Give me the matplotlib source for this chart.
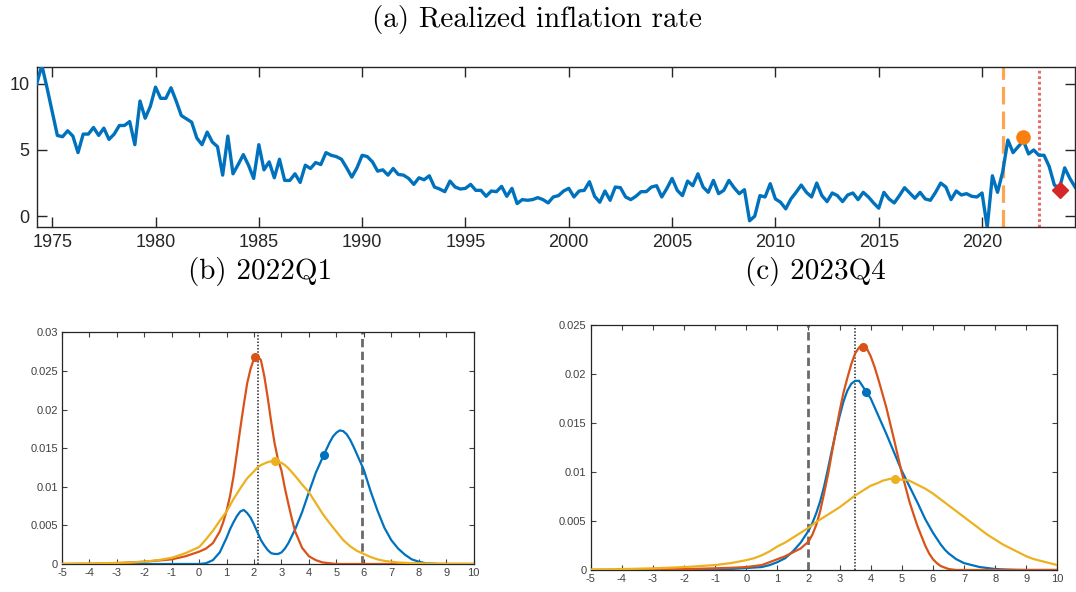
import numpy as np
import matplotlib
matplotlib.use("Agg")
import matplotlib.pyplot as plt

plt.rcParams['axes.unicode_minus'] = False

# ---------------- data: panel (a) quarterly realized inflation ----------------
start_year = 1974.25
inflation = [
    10.0, 11.4, 9.7, 7.9, 6.1, 6.0, 6.45, 6.05, 4.8, 6.2,
    6.2, 6.7, 6.1, 6.65, 5.8, 6.2, 6.85, 6.85, 7.15, 5.4,
    8.7, 7.4, 8.3, 9.75, 8.9, 8.9, 9.7, 8.7, 7.6, 7.35,
    7.1, 5.9, 5.4, 6.35, 5.6, 5.25, 3.1, 6.05, 3.2, 3.9,
    4.65, 3.85, 2.85, 5.4, 3.5, 4.1, 2.9, 4.3, 2.7, 2.7,
    3.2, 2.55, 3.85, 3.6, 4.05, 3.9, 4.8, 4.6, 4.5, 4.3,
    3.65, 2.95, 3.65, 4.6, 4.5, 4.1, 3.4, 3.5, 3.1, 3.6,
    3.15, 3.1, 2.85, 2.4, 2.9, 2.75, 3.05, 2.2, 2.05, 1.85,
    2.65, 2.2, 2.05, 2.1, 2.4, 1.95, 1.95, 1.5, 1.9, 1.85,
    2.25, 1.5, 2.1, 0.95, 1.25, 1.2, 1.25, 1.4, 1.25, 1.0,
    1.45, 1.55, 1.9, 2.1, 1.45, 1.9, 1.95, 2.6, 1.5, 1.05,
    1.9, 1.2, 2.2, 2.15, 1.45, 1.25, 1.5, 1.85, 1.85, 2.2,
    2.3, 1.45, 2.1, 2.85, 1.95, 1.55, 2.65, 2.3, 3.2, 2.2,
    1.8, 2.7, 1.7, 1.95, 2.7, 2.15, 1.7, 2.0, -0.35, 0.0,
    1.55, 1.45, 2.45, 1.3, 1.05, 0.55, 1.3, 1.8, 2.35, 1.8,
    1.45, 2.5, 1.55, 1.1, 1.75, 1.55, 1.1, 1.6, 1.75, 1.25,
    1.8, 1.45, 1.0, 0.6, 1.8, 1.3, 1.0, 1.55, 2.15, 1.75,
    1.35, 1.8, 1.3, 1.2, 1.8, 2.5, 2.2, 1.25, 1.9, 1.6,
    1.7, 1.5, 1.45, 1.75, -0.85, 3.05, 1.8, 3.35, 5.75, 4.8,
    5.25, 5.7, 4.7, 5.0, 4.6, 4.6, 3.75, 2.35, 2.1, 3.65,
    2.85, 2.2,
]
forecast_2022q1_date = 2021.0
forecast_2023q4_date = 2022.75
real_2022q1 = (2022.0, 5.95)
real_2023q4 = (2023.75, 1.95)

# ---------------- data: panels (b) and (c) densities ----------------
x_grid = np.arange(-5, 10.001, 0.25)

b_blue = [
    0, 0, 0, 0, 0, 0, 0, 0, 0, 0, 0, 0, 0, 0, 0, 0, 0, 0, 0, 0, 0,
    0.0001, 0.0005, 0.0015, 0.0034, 0.0054, 0.0068, 0.0066, 0.0051, 0.0031, 0.0018,
    0.0013, 0.0015, 0.0027, 0.0045, 0.0067, 0.0093, 0.0118, 0.0138, 0.0157, 0.0170,
    0.0172, 0.0161, 0.0142, 0.0122, 0.0094, 0.0069, 0.0047, 0.0031, 0.0020, 0.0012,
    0.0006, 0.0003, 0.0001, 0.00005, 0, 0, 0, 0, 0, 0,
]
b_blue_extra_x = [1.125, 1.375, 1.625, 1.875, 2.125, 2.375, 2.625, 2.875, 3.125,
                  4.875, 5.125, 5.375, 5.625, 5.875]
b_blue_extra_y = [0.0045, 0.0062, 0.0070, 0.0060, 0.0041, 0.0024, 0.0014, 0.0013, 0.0020,
                  0.0165, 0.0173, 0.0168, 0.0152, 0.0132]
b_red = [
    0, 0, 0.00001, 0.00002, 0.00003, 0.00004, 0.00006, 0.00008, 0.0001, 0.00015,
    0.0002, 0.00025, 0.0003, 0.00037, 0.00045, 0.00052, 0.0006, 0.0008, 0.001, 0.0013,
    0.0016, 0.002, 0.0027, 0.0042, 0.0069, 0.0113, 0.0176, 0.0234, 0.0266, 0.0264,
    0.0215, 0.0156, 0.0121, 0.0078, 0.0042, 0.0021, 0.0010, 0.0005, 0.0002, 0.0001,
    0, 0, 0, 0, 0, 0, 0, 0, 0, 0, 0, 0, 0, 0, 0, 0, 0, 0, 0, 0, 0,
]
b_red_extra_x = [0.875, 1.125, 1.375, 1.625, 1.875, 2.125, 2.375, 2.625, 2.875, 3.125, 3.375]
b_red_extra_y = [0.0054, 0.0088, 0.0144, 0.0206, 0.0253, 0.0269, 0.0243, 0.0184, 0.0135, 0.0098, 0.0059]
b_yellow = [
    0.00002, 0.00003, 0.00004, 0.00005, 0.00006, 0.00008, 0.0001, 0.00012, 0.00015, 0.00018,
    0.0002, 0.00025, 0.0003, 0.0004, 0.0005, 0.00065, 0.0008, 0.0011, 0.0014, 0.0018,
    0.0022, 0.0032, 0.0043, 0.0056, 0.0068, 0.0084, 0.0098, 0.0111, 0.0120, 0.0128,
    0.0132, 0.0133, 0.0131, 0.0124, 0.0114, 0.0103, 0.0093, 0.0079, 0.0065, 0.0053,
    0.0042, 0.0031, 0.0023, 0.0017, 0.0013, 0.0009, 0.0006, 0.0004, 0.0003, 0.0002,
    0.00015, 0.0001, 0.0001, 0.00007, 0.00005, 0.00004, 0.00003, 0.00002, 0.00002, 0.00001,
    0.00001,
]
b_yellow_extra_x = [2.125, 2.375, 2.625, 2.875, 3.125]
b_yellow_extra_y = [0.0125, 0.0130, 0.0133, 0.0132, 0.0128]
b_points = {'blue': (4.55, 0.0141), 'red': (2.05, 0.0268), 'yellow': (2.75, 0.0133)}
b_dotted = 2.15
b_dashed = 5.95

c_blue = [
    0, 0, 0, 0, 0, 0, 0, 0.00001, 0.00001, 0.00001,
    0.00002, 0.00002, 0.00003, 0.00003, 0.00004, 0.00005, 0.00006, 0.00008, 0.0001, 0.00015,
    0.0002, 0.00025, 0.0003, 0.0005, 0.0008, 0.0012, 0.0019, 0.0028, 0.0040, 0.0058,
    0.0085, 0.0122, 0.0157, 0.0183, 0.0193, 0.0187, 0.0175, 0.0157, 0.0139, 0.0120,
    0.0101, 0.0085, 0.0069, 0.0052, 0.0038, 0.0026, 0.0017, 0.0011, 0.0007, 0.0005,
    0.0003, 0.0002, 0.0001, 0.00006, 0.00003, 0.00001, 0, 0, 0, 0,
    0,
]
c_blue_extra_x = [2.125, 2.375, 2.625, 2.875, 3.125, 3.375, 3.625, 3.875, 5.875, 6.125, 6.375]
c_blue_extra_y = [0.0048, 0.0070, 0.0103, 0.0140, 0.0172, 0.0190, 0.0193, 0.0181, 0.0045, 0.0032, 0.0021]
c_red = [
    0, 0, 0.00001, 0.00001, 0.00002, 0.00002, 0.00003, 0.00004, 0.00005, 0.00006,
    0.00007, 0.00008, 0.0001, 0.00011, 0.00013, 0.00015, 0.00017, 0.0002, 0.00022, 0.00026,
    0.0003, 0.0004, 0.0005, 0.0008, 0.0011, 0.0014, 0.0018, 0.0022, 0.0029, 0.0046,
    0.0078, 0.0119, 0.0162, 0.0196, 0.0221, 0.0229, 0.0218, 0.0194, 0.0166, 0.0133,
    0.0099, 0.0069, 0.0045, 0.0025, 0.0011, 0.0004, 0.0001, 0, 0, 0,
    0, 0, 0, 0, 0, 0, 0, 0, 0, 0,
    0,
]
c_red_extra_x = [2.125, 2.375, 2.625, 2.875, 3.125, 3.375, 3.625, 3.875, 4.125, 5.875, 6.125]
c_red_extra_y = [0.0036, 0.0060, 0.0097, 0.0141, 0.0181, 0.0210, 0.0227, 0.0226, 0.0207, 0.0017, 0.0007]
c_yellow = [
    0.00005, 0.00006, 0.00007, 0.00008, 0.0001, 0.00011, 0.00013, 0.00015, 0.00017, 0.0002,
    0.00023, 0.00026, 0.0003, 0.00034, 0.0004, 0.00045, 0.0005, 0.0006, 0.0007, 0.00085,
    0.001, 0.0012, 0.0015, 0.0019, 0.0024, 0.0028, 0.0033, 0.0038, 0.0043, 0.0049,
    0.0054, 0.0059, 0.0064, 0.0070, 0.0076, 0.0081, 0.0086, 0.0089, 0.0092, 0.0093,
    0.0092, 0.0091, 0.0087, 0.0083, 0.0078, 0.0072, 0.0066, 0.0060, 0.0054, 0.0048,
    0.0042, 0.0036, 0.0031, 0.0026, 0.0022, 0.0018, 0.0014, 0.0011, 0.0009, 0.0007,
    0.0005,
]
c_yellow_extra_x = [4.375, 4.625, 4.875, 5.125]
c_yellow_extra_y = [0.0091, 0.0093, 0.0093, 0.0092]
c_points = {'blue': (3.85, 0.0182), 'red': (3.75, 0.0228), 'yellow': (4.78, 0.0093)}
c_dotted = 3.5
c_dashed = 2.0

x_ticks = list(range(-5, 11))
b_yticks = [0, 0.005, 0.01, 0.015, 0.02, 0.025, 0.03]
b_ylabels = ['0', '0.005', '0.01', '0.015', '0.02', '0.025', '0.03']
c_yticks = [0, 0.005, 0.01, 0.015, 0.02, 0.025]
c_ylabels = ['0', '0.005', '0.01', '0.015', '0.02', '0.025']
top_xticks = [1975, 1980, 1985, 1990, 1995, 2000, 2005, 2010, 2015, 2020]
top_yticks = [0, 5, 10]

# ---------------- styles ----------------
BLUE = '#0072BD'
RED = '#D95319'
YELLOW = '#EDB120'
AX_COL = '#262626'
SANS = ['Liberation Sans', 'DejaVu Sans']
SERIF = ['cmr10', 'DejaVu Serif']


def merged(base, extra_x, extra_y):
    xs = np.concatenate([x_grid, np.asarray(extra_x, float)])
    ys = np.concatenate([np.asarray(base, float), np.asarray(extra_y, float)])
    order = np.argsort(xs, kind='stable')
    return xs[order], ys[order]


fig = plt.figure(figsize=(10.76, 5.92), dpi=100)

# ---------------- panel (a) ----------------
years = start_year + 0.25 * np.arange(len(inflation))
ax = fig.add_axes([0.0341, 0.617, 0.965, 0.2705])
ax.plot(years, inflation, color=BLUE, lw=2.4, solid_joinstyle='round', zorder=3)
ax.axvline(forecast_2022q1_date, color='#FFA552', lw=2.3, dashes=(5.5, 2.2), zorder=2)
ax.axvline(forecast_2023q4_date, color='#E86B6B', lw=2.2, dashes=(0.9, 0.9), zorder=2)
ax.plot([real_2022q1[0]], [real_2022q1[1]], 'o', color='#F98010', ms=9.5, zorder=4)
ax.plot([real_2023q4[0]], [real_2023q4[1]], 'D', color='#D62728', ms=8, zorder=4)
ax.set_xlim(years[0], years[-1])
ax.set_ylim(-0.8, 11.3)
ax.set_xticks(top_xticks)
ax.set_yticks(top_yticks)
ax.tick_params(direction='in', length=7, width=1, colors=AX_COL, labelsize=13,
               top=True, right=True, pad=5)
for lab in ax.get_xticklabels() + ax.get_yticklabels():
    lab.set_family(SANS)
for sp in ax.spines.values():
    sp.set_color(AX_COL)
    sp.set_linewidth(1.0)


def density_panel(rect, curves, points, dotted, dashed, ymax, yticks, ylabels):
    a = fig.add_axes(rect)
    for (xs, ys), col in zip(curves, (BLUE, RED, YELLOW)):
        a.plot(xs, ys, color=col, lw=1.6, solid_joinstyle='round', zorder=3)
    a.axvline(dotted, color='#404040', lw=1.3, dashes=(0.8, 1.0), zorder=2)
    a.axvline(dashed, color='#6A6A6A', lw=2.0, dashes=(3.0, 1.6), zorder=2)
    for key, col in (('blue', BLUE), ('red', RED), ('yellow', YELLOW)):
        px, py = points[key]
        a.plot([px], [py], 'o', color=col, ms=5.5, zorder=4)
    a.set_xlim(-5, 10)
    a.set_ylim(0, ymax)
    a.set_xticks(x_ticks)
    a.set_xticklabels([str(t) for t in x_ticks])
    a.set_yticks(yticks)
    a.set_yticklabels(ylabels)
    a.tick_params(direction='in', length=3.5, width=0.8, colors='#404040', labelsize=8,
                  top=True, right=True, pad=3)
    for lab in a.get_xticklabels() + a.get_yticklabels():
        lab.set_family(SANS)
    for sp in a.spines.values():
        sp.set_color(AX_COL)
        sp.set_linewidth(0.9)
    return a


density_panel([0.0576, 0.0473, 0.3825, 0.3914],
              [merged(b_blue, b_blue_extra_x, b_blue_extra_y),
               merged(b_red, b_red_extra_x, b_red_extra_y),
               merged(b_yellow, b_yellow_extra_x, b_yellow_extra_y)],
              b_points, b_dotted, b_dashed, 0.03, b_yticks, b_ylabels)
density_panel([0.549, 0.0372, 0.4337, 0.4139],
              [merged(c_blue, c_blue_extra_x, c_blue_extra_y),
               merged(c_red, c_red_extra_x, c_red_extra_y),
               merged(c_yellow, c_yellow_extra_x, c_yellow_extra_y)],
              c_points, c_dotted, c_dashed, 0.025, c_yticks, c_ylabels)

# ---------------- titles ----------------
fig.text(537 / 1076, 1 - 20 / 592, '(a) Realized inflation rate', family=SERIF,
         fontsize=21, ha='center', va='center', color='black')
fig.text(260 / 1076, 1 - 272 / 592, '(b) 2022Q1', family=SERIF,
         fontsize=21, ha='center', va='center', color='black')
fig.text(815 / 1076, 1 - 272 / 592, '(c) 2023Q4', family=SERIF,
         fontsize=21, ha='center', va='center', color='black')

fig.savefig('out.png', dpi=100)
